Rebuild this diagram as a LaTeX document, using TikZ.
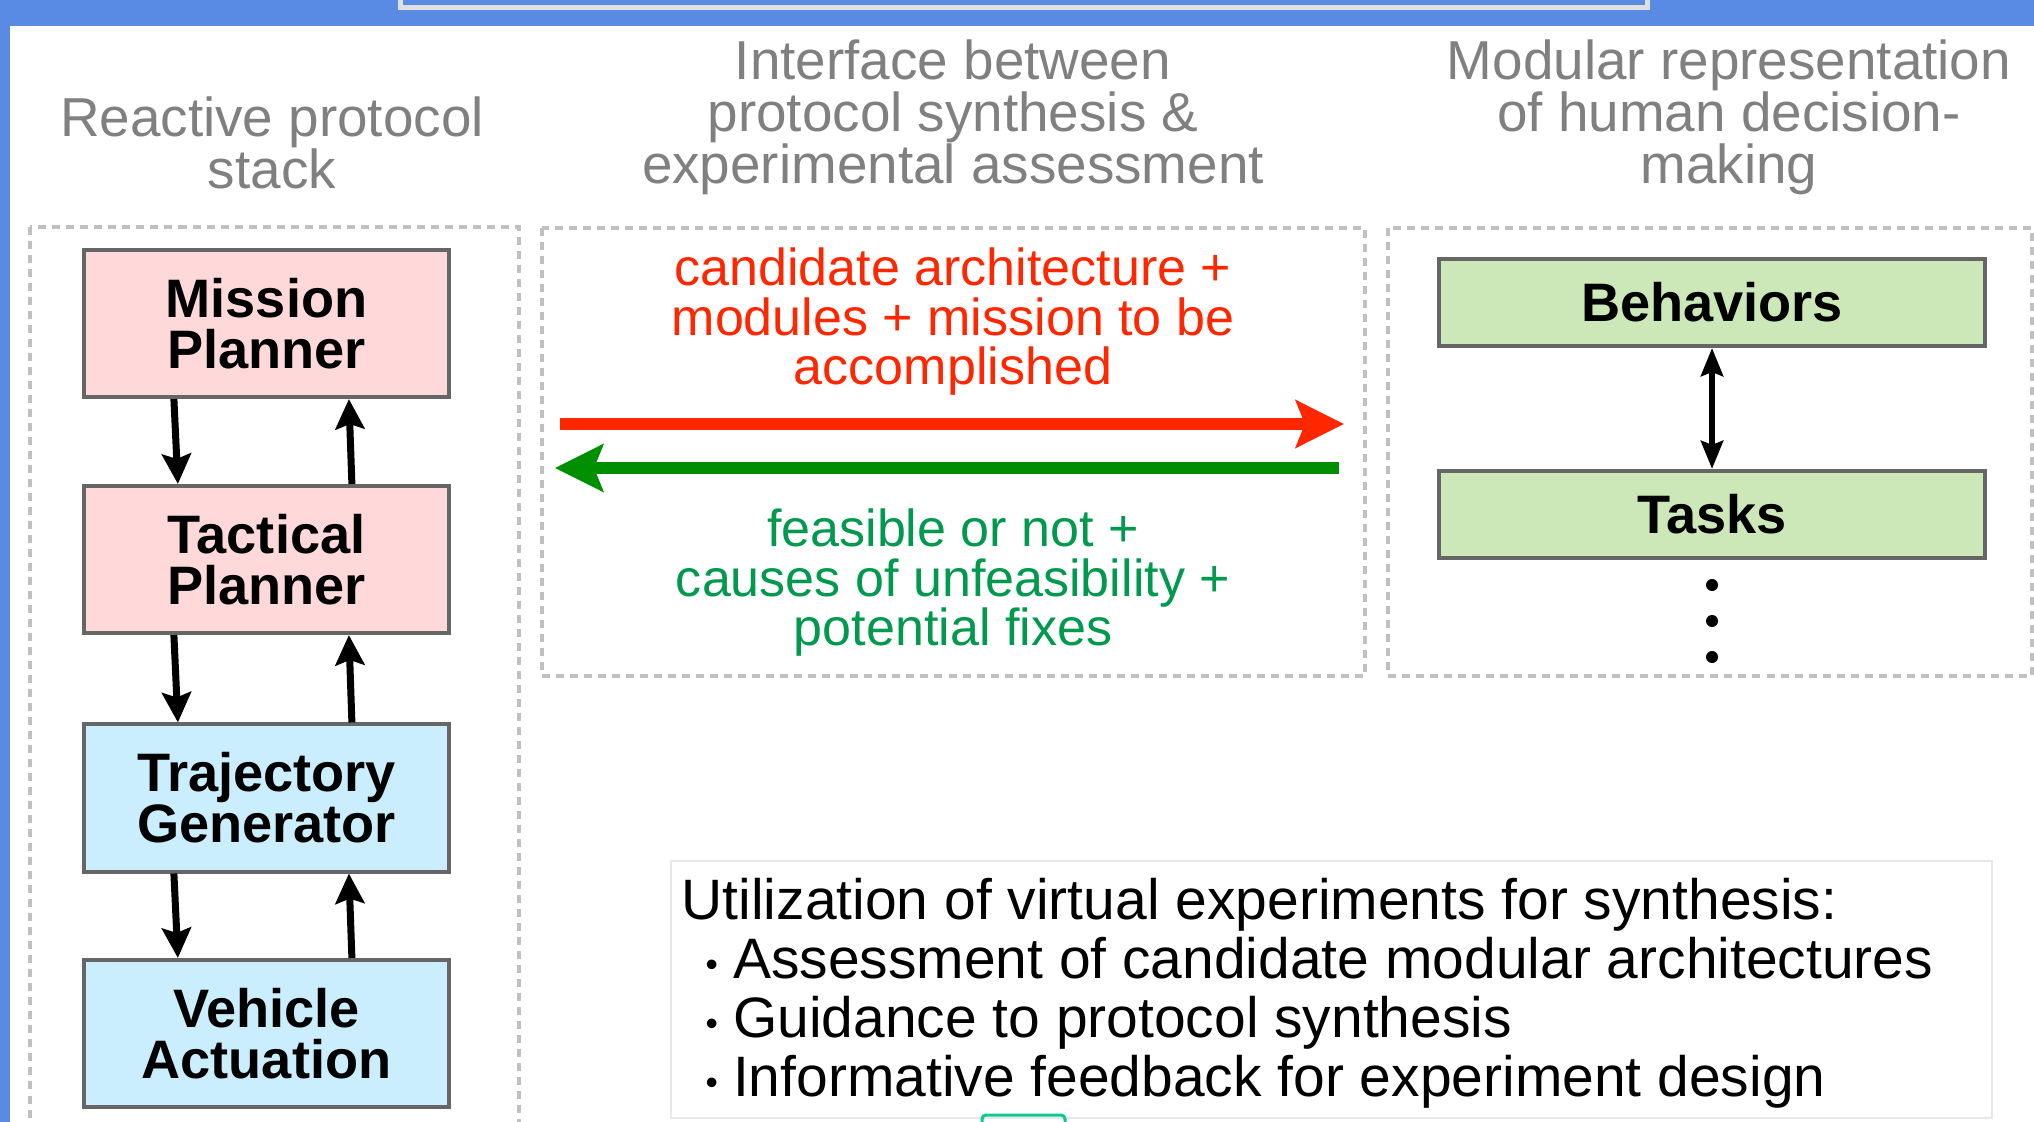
\documentclass[tikz,border=0pt]{standalone}
\usepackage{fontspec}
\setmainfont{Liberation Sans}
\usetikzlibrary{calc}
\usetikzlibrary{arrows.meta}

\definecolor{bandblue}{RGB}{90,139,228}
\definecolor{boxgray}{RGB}{102,102,102}
\definecolor{dashgray}{RGB}{192,192,192}
\definecolor{headgray}{RGB}{128,128,128}
\definecolor{planpink}{RGB}{255,217,217}
\definecolor{lowblue}{RGB}{202,238,253}
\definecolor{modgreen}{RGB}{205,232,184}
\definecolor{reqred}{RGB}{255,38,0}
\definecolor{fbgreen}{RGB}{0,143,0}
\definecolor{fbtextgreen}{RGB}{0,153,77}
\definecolor{tealedge}{RGB}{10,200,150}

\begin{document}
\begin{tikzpicture}[x=0.01cm, y=-0.01cm,
    stackbox/.style={draw=boxgray, line width=0.04cm, minimum width=3.65cm, minimum height=1.47cm,
        align=center, font=\fontsize{15.4}{14.5}\selectfont\bfseries},
    modbox/.style={draw=boxgray, line width=0.04cm, fill=modgreen, minimum width=5.46cm, minimum height=0.87cm,
        font=\fontsize{15.4}{14.5}\selectfont\bfseries},
    heading/.style={headgray, align=center, inner sep=0pt, font=\fontsize{15.6}{14.8}\selectfont},
    msgtext/.style={align=center, inner sep=0pt, font=\fontsize{14.8}{14.2}\selectfont},
    groupbox/.style={dashgray, line width=0.04cm, dash pattern=on 0.08cm off 0.06cm},
    stackarrow/.style={line width=0.07cm, -{Stealth[length=0.3cm, width=0.29cm, inset=0.05cm]}},
    msgarrow/.style={line width=0.11cm, -{Stealth[length=0.48cm, width=0.47cm, inset=0.09cm]}}]

    \useasboundingbox (0,0) rectangle (2034,1122);
    \clip (0,0) rectangle (2034,1122);

    % frame: blue band on top and left
    \fill[bandblue] (0,0) rectangle (2034,26);
    \fill[bandblue] (0,0) rectangle (10,1122);
    \draw[gray!25, line width=0.05cm, fill=bandblue] (400,-10) rectangle (1647,8);

    % headings (anchored on the baseline of the last line)
    \node[heading, anchor=base] (hdrstack) at (272,189) {Reactive protocol\\stack};
    \node[heading, anchor=base] (hdriface) at (953,184) {Interface between\\protocol synthesis \&\\experimental assessment};
    \node[heading, anchor=base] (hdrmodular) at (1729,184) {Modular representation\\of human decision-\\making};

    % dashed groups
    \draw[groupbox] (30,227) rectangle (519,1140);
    \draw[groupbox] (542,228) rectangle (1365,676);
    \draw[groupbox] (1388,228) rectangle (2032,676);

    % protocol stack
    \node[stackbox, fill=planpink] (mission) at (266.5,323.5) {Mission\\Planner};
    \node[stackbox, fill=planpink] (tactical) at (266.5,559.5) {Tactical\\Planner};
    \node[stackbox, fill=lowblue] (trajectory) at (266.5,798) {Trajectory\\Generator};
    \node[stackbox, fill=lowblue] (vehicle) at (266.5,1033.5) {Vehicle\\Actuation};

    % down and up links between levels
    \foreach \upper/\lower in {mission/tactical, tactical/trajectory, trajectory/vehicle} {
        \draw[stackarrow] ($(\upper.south west)+(92,0)$) -- ($(\lower.north west)+(96,0)$);
        \draw[stackarrow] ($(\lower.north west)+(270,0)$) -- ($(\upper.south west)+(267,0)$);
    }

    % request / feedback exchange
    \coordinate (reqstart) at (560,424);
    \coordinate (reqend) at (1344,424);
    \coordinate (fbstart) at (1339,468);
    \coordinate (fbend) at (555,468);
    \draw[msgarrow, reqred] (reqstart) -- (reqend);
    \draw[msgarrow, fbgreen] (fbstart) -- (fbend);
    \node[msgtext, reqred, anchor=base] (reqtext) at (953,385) {candidate architecture +\\modules + mission to be\\accomplished};
    \node[msgtext, fbtextgreen, anchor=base] (fbtext) at (953,646) {feasible or not +\\causes of unfeasibility +\\potential fixes};

    % decision-making modules
    \node[modbox] (behaviors) at (1712,302.5) {Behaviors};
    \node[modbox] (tasks) at (1712,514.5) {Tasks};
    \draw[line width=0.06cm, {Stealth[length=0.28cm, width=0.22cm, inset=0.04cm]}-{Stealth[length=0.28cm, width=0.22cm, inset=0.04cm]}]
        (behaviors.south) -- (tasks.north);
    \foreach \y in {585,621,657} {
        \fill (1712,\y) circle[radius=0.06cm];
    }

    % virtual experiments summary
    \node[draw=gray!18, line width=0.02cm, anchor=north west, minimum width=13.2cm, minimum height=2.57cm] (util) at (670,860) {};
    \node[anchor=base west, align=left, inner sep=0pt, font=\fontsize{16.2}{16.7}\selectfont] (utiltext) at (681,1096)
        {Utilization of virtual experiments for synthesis:\\
         \hspace*{0.24cm}{\fontsize{10}{10}\selectfont\raisebox{0.02cm}{\textbullet}}\hspace{0.15cm}Assessment of candidate modular architectures\\
         \hspace*{0.24cm}{\fontsize{10}{10}\selectfont\raisebox{0.02cm}{\textbullet}}\hspace{0.15cm}Guidance to protocol synthesis\\
         \hspace*{0.24cm}{\fontsize{10}{10}\selectfont\raisebox{0.02cm}{\textbullet}}\hspace{0.15cm}Informative feedback for experiment design};

    % cut-off tab below
    \draw[tealedge, line width=0.03cm, rounded corners=0.04cm] (982,1115) rectangle (1065,1160);

\end{tikzpicture}
\end{document}
